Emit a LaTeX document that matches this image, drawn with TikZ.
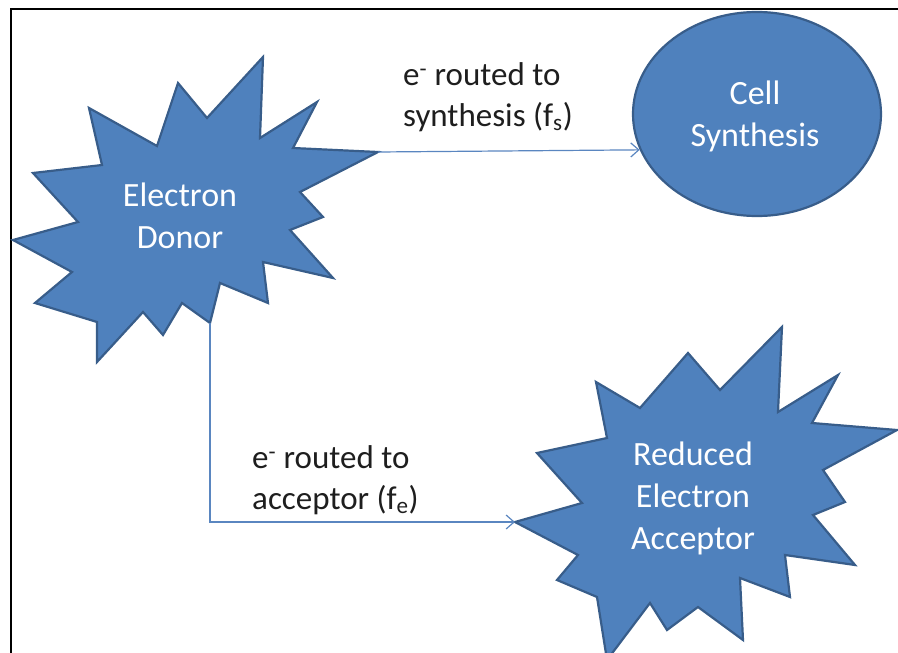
\documentclass[tikz,border=0pt]{standalone}
\usepackage{fontspec}
\setmainfont{Carlito}
\usetikzlibrary{arrows.meta,shapes.geometric}
\definecolor{starblue}{HTML}{4F81BD}
\definecolor{staredge}{HTML}{385D8A}
\definecolor{linkblue}{HTML}{5A86C0}
\definecolor{labelgray}{HTML}{1E1E1E}
\begin{document}
\begin{tikzpicture}[x=1pt,y=-1pt,
  blob/.style={fill=starblue, draw=staredge, line width=2.2pt, line join=miter, miter limit=10},
  intext/.style={text=white, font=\fontsize{34}{42}\selectfont, align=center, inner sep=0pt},
  lbl/.style={text=labelgray, font=\fontsize{33}{41}\selectfont, align=left, anchor=west, inner sep=0pt},
  link/.style={draw=linkblue, line width=1.2pt, -{Straight Barb[length=8pt,width=14pt]}},
  frameline/.style={line width=2.6pt, black, line join=miter}]
\useasboundingbox (0,0) rectangle (898,653);
% frame
\draw[frameline] (11,653) -- (11,9) -- (898,9);
% electron donor star
\draw[blob] (13,240) -- (78,222) -- (33,173) -- (102,165) -- (89,108) -- (157,146)
  -- (178,83) -- (207,118) -- (263,57) -- (260,138) -- (317,102) -- (293,148)
  -- (378,152) -- (300,192) -- (323,217) -- (290,230) -- (333,278) -- (263,262)
  -- (268,303) -- (220,283) -- (210,323) -- (182,303) -- (163,335) -- (143,312)
  -- (97,362) -- (97,322) -- (35,303) -- (72,272) -- cycle;
\coordinate (donorE) at (378,152);
\coordinate (donorS) at (210,323);
\node[intext] (donor) at (180,216) {Electron\\Donor};
% reduced electron acceptor star
\draw[blob] (515,522) -- (582,503) -- (537,453) -- (607,438) -- (596,382) -- (640,408)
  -- (688,353) -- (720,390) -- (782,327) -- (778,412) -- (838,375) -- (812,423)
  -- (897,430) -- (823,470) -- (845,502) -- (813,515) -- (855,565) -- (785,555)
  -- (790,597) -- (740,578) -- (743,640) -- (698,607) -- (667,630) -- (650,603)
  -- (607,660) -- (597,597) -- (557,580) -- (578,555) -- cycle;
\coordinate (accW) at (515,522);
\node[intext] (acceptor) at (693,498) {Reduced\\Electron\\Acceptor};
% cell synthesis ellipse
\node[ellipse, fill=starblue, draw=staredge, line width=2.2pt,
  minimum width=248pt, minimum height=204pt, inner sep=0pt] (cell) at (757,114) {};
\node[intext] (celltext) at (755,116) {Cell\\Synthesis};
% connectors
\draw[link] (donorE) -- (cell.197);
\draw[link] (donorS) |- (accW);
% labels
\node[lbl] (synlbl) at (403,97) {e\textsuperscript{-} routed to\\synthesis (f\textsubscript{s})};
\node[lbl] (acclbl) at (252,480) {e\textsuperscript{-} routed to\\acceptor (f\textsubscript{e})};
\end{tikzpicture}
\end{document}
